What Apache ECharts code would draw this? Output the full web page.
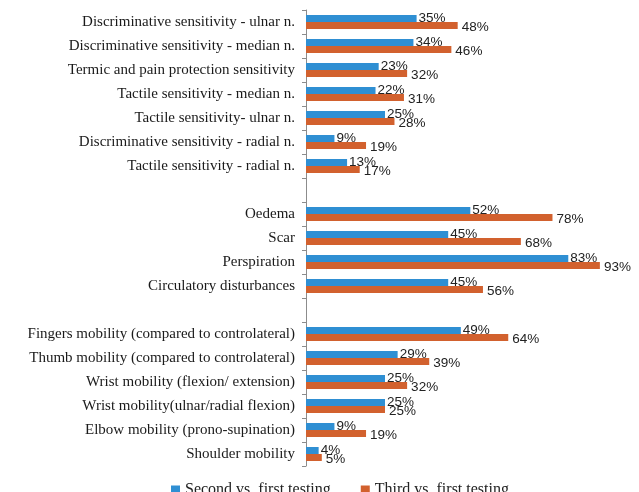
<!DOCTYPE html>
<html>
<head>
<meta charset="utf-8">
<script src="https://cdn.jsdelivr.net/npm/echarts@6/dist/echarts.min.js"></script>
<style>
  html, body { margin: 0; padding: 0; background: #fff; }
  #chart { width: 639px; height: 492px; }
</style>
</head>
<body>
<div id="chart"></div>
<script>
// categories top to bottom, blank entries are the spacer rows between groups
var categories = [
  'Discriminative sensitivity - ulnar n.',
  'Discriminative sensitivity - median n.',
  'Termic and pain protection sensitivity',
  'Tactile sensitivity - median n.',
  'Tactile sensitivity- ulnar n.',
  'Discriminative sensitivity - radial n.',
  'Tactile sensitivity - radial n.',
  ' ',
  'Oedema',
  'Scar',
  'Perspiration',
  'Circulatory disturbances',
  '  ',
  'Fingers mobility (compared to controlateral)',
  'Thumb mobility (compared to controlateral)',
  'Wrist mobility (flexion/ extension)',
  'Wrist mobility(ulnar/radial flexion)',
  'Elbow mobility (prono-supination)',
  'Shoulder mobility'
];
var secondVsFirst = [35, 34, 23, 22, 25, 9, 13, null, 52, 45, 83, 45, null, 49, 29, 25, 25, 9, 4];
var thirdVsFirst  = [48, 46, 32, 31, 28, 19, 17, null, 78, 68, 93, 56, null, 64, 39, 32, 25, 19, 5];

var chart = echarts.init(document.getElementById('chart'));
var labelFont = {
  fontFamily: 'Liberation Sans',
  fontSize: 13.5,
  color: '#222'
};
var option = {
  animation: false,
  grid: { left: 306, right: 17, top: 10, bottom: 26 },
  legend: {
    left: 166,
    top: 477,
    itemWidth: 9,
    itemHeight: 9,
    itemGap: 30,
    icon: 'rect',
    textStyle: { fontFamily: 'Liberation Serif', fontSize: 16, color: '#222' },
    data: ['Second vs. first testing', 'Third vs. first testing']
  },
  xAxis: {
    type: 'value',
    min: 0,
    max: 100,
    show: false
  },
  yAxis: {
    type: 'category',
    inverse: true,
    data: categories,
    axisLine: { lineStyle: { color: '#8c8c8c' } },
    axisTick: { show: true, length: 4, lineStyle: { color: '#8c8c8c' } },
    axisLabel: {
      fontFamily: 'Liberation Serif',
      fontSize: 15,
      color: '#1a1a1a',
      margin: 11
    }
  },
  series: [
    {
      name: 'Second vs. first testing',
      type: 'bar',
      data: secondVsFirst,
      barWidth: 7,
      barGap: '0%',
      itemStyle: { color: '#2f8fd3' },
      label: Object.assign({
        show: true,
        position: 'right',
        distance: 2,
        offset: [0, 0],
        formatter: '{c}%'
      }, labelFont)
    },
    {
      name: 'Third vs. first testing',
      type: 'bar',
      data: thirdVsFirst,
      barWidth: 7,
      itemStyle: { color: '#d2612e' },
      label: Object.assign({
        show: true,
        position: 'right',
        distance: 4,
        offset: [0, 2],
        formatter: '{c}%'
      }, labelFont)
    }
  ]
};
chart.setOption(option);
</script>
</body>
</html>
